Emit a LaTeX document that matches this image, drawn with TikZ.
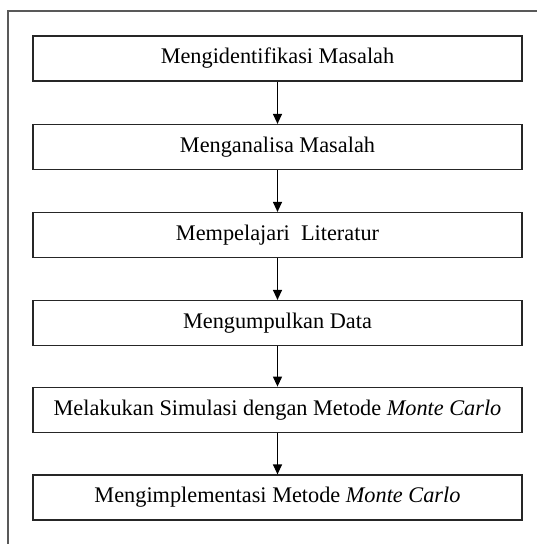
\documentclass[tikz,border=0pt]{standalone}
\usepackage{fontspec}
\setmainfont{Liberation Serif}
\usetikzlibrary{arrows.meta}
\begin{document}
\begin{tikzpicture}[x=1pt,y=-1pt,
  stepbox/.style={draw=black!85, line width=1.2pt, minimum width=489pt, minimum height=45pt, inner sep=0pt, font=\fontsize{22.3}{25}\selectfont},
  flow/.style={draw=black, -{Triangle[length=10pt,width=9pt]}, line width=1.2pt}]
\useasboundingbox (0,0) rectangle (537,544);
\draw[line width=1.5pt, color=black!65] (8,546) -- (8,11) -- (539,11);
\node[stepbox] (n1) at (277.5,58.5) {Mengidentifikasi Masalah};
\node[stepbox] (n2) at (277.5,147) {Menganalisa Masalah};
\node[stepbox] (n3) at (277.5,235) {Mempelajari\ \ Literatur};
\node[stepbox] (n4) at (277.5,323) {Mengumpulkan Data};
\node[stepbox] (n5) at (277.5,409.7) {Melakukan Simulasi dengan Metode \textit{Monte Carlo}};
\node[stepbox] (n6) at (277.5,497.5) {Mengimplementasi Metode \textit{Monte Carlo}};
\draw[flow] (n1) -- (n2);
\draw[flow] (n2) -- (n3);
\draw[flow] (n3) -- (n4);
\draw[flow] (n4) -- (n5);
\draw[flow] (n5) -- (n6);
\end{tikzpicture}
\end{document}
